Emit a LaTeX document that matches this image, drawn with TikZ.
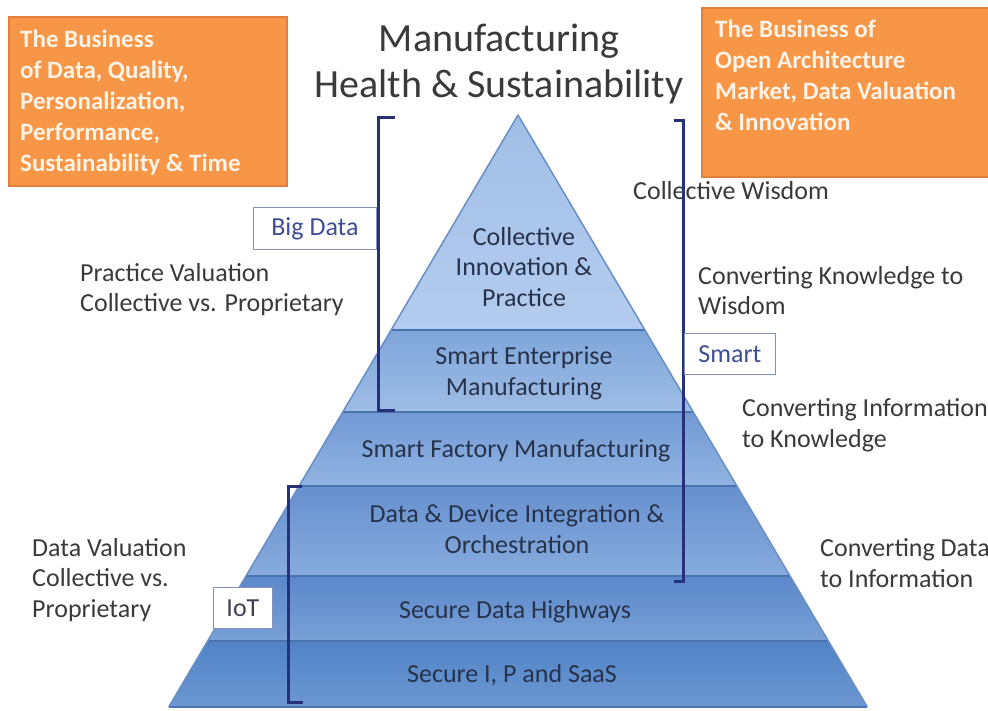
\documentclass[tikz,border=0pt]{standalone}
\usepackage{fontspec}
\setmainfont{Carlito}
\definecolor{orangefill}{HTML}{F79646}
\definecolor{orangeline}{HTML}{E0803C}
\definecolor{orangetext}{HTML}{FFF3E8}
\definecolor{navy}{HTML}{27307A}
\definecolor{labtext}{HTML}{3F4F92}
\definecolor{labline}{HTML}{8593BA}
\definecolor{bodytext}{HTML}{3A3A3A}
\definecolor{pyrtext}{HTML}{27324B}
\definecolor{sepcol}{HTML}{4A72AD}
\definecolor{outcol}{HTML}{6A8FC4}
\definecolor{aT}{HTML}{A0BEE7}\definecolor{aB}{HTML}{B4CDEE}
\definecolor{bT}{HTML}{7EA5D9}\definecolor{bB}{HTML}{9FBDE6}
\definecolor{cT}{HTML}{7199D4}\definecolor{cB}{HTML}{92B4E2}
\definecolor{dT}{HTML}{6690CF}\definecolor{dB}{HTML}{87ABDD}
\definecolor{eT}{HTML}{5B88CA}\definecolor{eB}{HTML}{79A1D7}
\definecolor{fT}{HTML}{5083C6}\definecolor{fB}{HTML}{6C98D2}
\begin{document}
\begin{tikzpicture}[x=1pt,y=-1pt,
  orangebox/.style={fill=orangefill,draw=orangeline,line width=1.2pt},
  orangetxt/.style={text=orangetext,font=\fontsize{25}{31}\selectfont\bfseries,align=left,inner sep=0pt},
  body/.style={text=bodytext,font=\fontsize{26}{30.5}\selectfont,align=left,inner sep=0pt},
  layertxt/.style={text=pyrtext,font=\fontsize{26}{31}\selectfont,align=center,inner sep=0pt},
  labelbox/.style={draw=labline,fill=white,line width=0.9pt,text=labtext,font=\fontsize{26}{30}\selectfont},
  bracket/.style={draw=navy,line width=3pt,line cap=butt,line join=miter},
  sepline/.style={draw=sepcol,line width=2.2pt},
  outline/.style={draw=outcol,line width=1.5pt,line join=round}]
\useasboundingbox (0,0) rectangle (988,711);
\fill[white] (0,0) rectangle (988,711);

% orange boxes
\draw[orangebox] (9,17) rectangle (287,186);
\node[orangetxt,anchor=base west] (ltxt) at (20,172) {The Business\\of Data, Quality,\\Personalization,\\Performance,\\Sustainability \& Time};
\draw[orangebox] (702,8) rectangle (995,177);
\node[orangetxt,anchor=base west] (rtxt) at (715,131) {The Business of\\Open Architecture\\Market, Data Valuation\\\& Innovation};

% title
\node[text=bodytext,font=\fontsize{40}{46}\selectfont,align=center,inner sep=0pt,anchor=base] (title) at (499,98) {Manufacturing\\Health \& Sustainability};

% pyramid coordinates
\coordinate (apex) at (518,115);
\coordinate (l1) at (391.1,330); \coordinate (r1) at (644.9,330);
\coordinate (l2) at (342.8,412); \coordinate (r2) at (693.2,412);
\coordinate (l3) at (299.1,486); \coordinate (r3) at (736.9,486);
\coordinate (l4) at (246.0,576); \coordinate (r4) at (790.0,576);
\coordinate (l5) at (207.7,641); \coordinate (r5) at (828.3,641);
\coordinate (l6) at (168.7,707); \coordinate (r6) at (867.3,707);

\shade[top color=aT,bottom color=aB] (apex) -- (r1) -- (l1) -- cycle;
\shade[top color=bT,bottom color=bB] (l1) -- (r1) -- (r2) -- (l2) -- cycle;
\shade[top color=cT,bottom color=cB] (l2) -- (r2) -- (r3) -- (l3) -- cycle;
\shade[top color=dT,bottom color=dB] (l3) -- (r3) -- (r4) -- (l4) -- cycle;
\shade[top color=eT,bottom color=eB] (l4) -- (r4) -- (r5) -- (l5) -- cycle;
\shade[top color=fT,bottom color=fB] (l5) -- (r5) -- (r6) -- (l6) -- cycle;
\draw[sepline] (l1) -- (r1);
\draw[sepline] (l2) -- (r2);
\draw[sepline] (l3) -- (r3);
\draw[sepline] (l4) -- (r4);
\draw[sepline] (l5) -- (r5);
\draw[sepline] (l6) -- (r6);
\draw[outline] (l6) -- (apex) -- (r6);

% layer texts
\node[layertxt,anchor=base] (t1) at (524,307) {Collective\\Innovation \&\\Practice};
\node[layertxt,anchor=base] (t2) at (524,395) {Smart Enterprise\\Manufacturing};
\node[layertxt,anchor=base] (t3) at (516,457) {Smart Factory Manufacturing};
\node[layertxt,anchor=base] (t4) at (517,553) {Data \& Device Integration \&\\Orchestration};
\node[layertxt,anchor=base] (t5) at (515,618) {Secure Data Highways};
\node[layertxt,anchor=base] (t6) at (512,682) {Secure I, P and SaaS};

% side texts
\node[body,anchor=base west] (cw) at (633,200) {Collective Wisdom};
\node[body,anchor=base west] (ckw) at (698,315) {Converting Knowledge to\\Wisdom};
\node[body,anchor=base west] (cik) at (742,447) {Converting Information\\to Knowledge};
\node[body,anchor=base west] (cdi) at (820,587) {Converting Data\\to Information};
\node[body,anchor=base west] (pv) at (80,312) {Practice Valuation\\Collective vs. Proprietary};
\node[body,anchor=base west] (dv) at (32,617) {Data Valuation\\Collective vs.\\Proprietary};

% brackets
\coordinate (bdT) at (395,118); \coordinate (bdTc) at (378,118);
\coordinate (bdBc) at (378,410); \coordinate (bdB) at (395,410);
\draw[bracket] (bdT) -- (bdTc) -- (bdBc) -- (bdB);
\coordinate (smT) at (674,121); \coordinate (smTc) at (683,121);
\coordinate (smBc) at (683,581); \coordinate (smB) at (674,581);
\draw[bracket] (smT) -- (smTc) -- (smBc) -- (smB);
\coordinate (ioT) at (302,486); \coordinate (ioTc) at (288,486);
\coordinate (ioBc) at (288,702); \coordinate (ioB) at (303,702);
\draw[bracket] (ioT) -- (ioTc) -- (ioBc) -- (ioB);

% label boxes
\node[labelbox,minimum width=123pt,minimum height=42pt,anchor=north west] (bigdata) at (253,207) {Big Data};
\node[labelbox,minimum width=91pt,minimum height=41pt,anchor=north west] (smart) at (684,333) {Smart};
\node[labelbox,minimum width=59pt,minimum height=41pt,anchor=north west,text=bodytext!70!labtext] (iot) at (213,587) {IoT};
\end{tikzpicture}
\end{document}
